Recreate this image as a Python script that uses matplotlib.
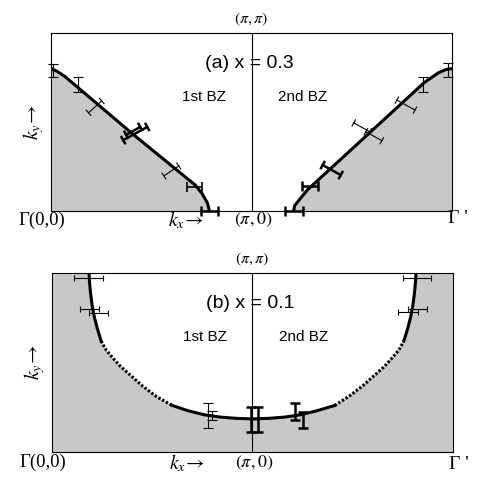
import numpy as np
import matplotlib.pyplot as plt

plt.rcParams['mathtext.fontset'] = 'stix'

# ---------------- data (kx, ky in units of pi) ----------------
# panel (a) x = 0.3 : Fermi surface pieces
a_left_kx = [0.0, 0.03, 0.07, 0.41, 0.72, 0.755, 0.78, 0.79]
a_left_ky = [0.80, 0.785, 0.755, 0.43, 0.145, 0.095, 0.045, 0.0]
a_right_kx = [1.21, 1.215, 1.24, 1.28, 1.58, 1.86, 1.93, 1.97, 2.0]
a_right_ky = [0.0, 0.03, 0.065, 0.12, 0.43, 0.72, 0.775, 0.795, 0.80]

# vertical error bars (a)
a_v_kx = [0.01, 0.135, 1.98, 1.855]
a_v_ky = [0.79, 0.71, 0.79, 0.71]
a_v_err = [0.037, 0.042, 0.04, 0.042]
# horizontal error bars (a)
a_h_kx = [0.715, 0.79, 1.29, 1.21]
a_h_ky = [0.135, 0.0, 0.14, 0.0]
a_h_err = [0.037, 0.042, 0.04, 0.045]
a_h_lw = [1.2, 1.8, 1.8, 1.8]
# tilted error bars (a): centre, half vector, linewidth
a_t_kx = [0.22, 0.42, 0.41, 0.60, 1.77, 1.55, 1.61, 1.40]
a_t_ky = [0.585, 0.435, 0.45, 0.225, 0.595, 0.47, 0.42, 0.23]
a_t_dx = [0.033, 0.06, 0.035, 0.037, 0.045, 0.04, 0.04, 0.045]
a_t_dy = [0.033, 0.037, 0.022, 0.028, -0.028, -0.025, -0.025, -0.028]
a_t_lw = [0.8, 1.8, 1.8, 0.8, 0.8, 0.8, 0.8, 1.8]

# panel (b) x = 0.1 : Fermi surface (solid / dotted / solid)
b_left_kx = [0.185, 0.187, 0.192, 0.200, 0.212, 0.226, 0.245, 0.27, 0.30, 0.34,
             0.39, 0.45, 0.52, 0.60, 0.68, 0.76, 0.84, 0.92, 1.0]
b_left_ky = [1.00, 0.95, 0.89, 0.82, 0.75, 0.69, 0.62, 0.57, 0.53, 0.48,
             0.43, 0.37, 0.31, 0.26, 0.23, 0.208, 0.195, 0.188, 0.185]
b_right_kx = [1.0, 1.08, 1.16, 1.24, 1.32, 1.41, 1.48, 1.55, 1.61, 1.66,
              1.70, 1.73, 1.755, 1.774, 1.788, 1.80, 1.808, 1.813, 1.815]
b_right_ky = [0.185, 0.188, 0.195, 0.208, 0.23, 0.26, 0.31, 0.37, 0.43, 0.48,
              0.53, 0.57, 0.62, 0.69, 0.75, 0.82, 0.89, 0.95, 1.00]
b_left_dot = (6, 13)    # index range of dotted part
b_right_dot = (5, 12)

# vertical error bars (b)
b_v_kx = [0.78, 0.80, 0.995, 1.025, 1.21, 1.25]
b_v_ky = [0.204, 0.205, 0.18, 0.18, 0.226, 0.18]
b_v_err = [0.07, 0.025, 0.07, 0.07, 0.047, 0.045]
b_v_lw = [0.8, 0.8, 1.8, 1.8, 1.8, 1.8]
# horizontal error bars (b)
b_h_kx = [0.18, 0.185, 0.23, 1.82, 1.775, 1.825]
b_h_ky = [0.97, 0.80, 0.777, 0.97, 0.78, 0.80]
b_h_err = [0.072, 0.047, 0.047, 0.07, 0.05, 0.047]

fig = plt.figure(figsize=(4.91, 4.91), dpi=100)
ax_a = fig.add_axes([0.1039, 0.5703, 0.8167, 0.3625])
ax_b = fig.add_axes([0.1059, 0.0794, 0.8167, 0.3646])

gray = '#c8c8c8'


def setup(ax):
    ax.set_xlim(0, 2)
    ax.set_ylim(0, 1)
    ax.set_xticks([])
    ax.set_yticks([])
    for s in ax.spines.values():
        s.set_linewidth(0.8)
    ax.axvline(1.0, color='black', lw=0.8, zorder=2)


def tilted_bar(ax, cx, cy, dx, dy, lw, cap=3.5):
    """error bar along an arbitrary direction, caps perpendicular on screen"""
    p1 = np.array([cx - dx, cy - dy])
    p2 = np.array([cx + dx, cy + dy])
    ax.plot([p1[0], p2[0]], [p1[1], p2[1]], color='black', lw=lw, zorder=4)
    d1 = ax.transData.transform(p1)
    d2 = ax.transData.transform(p2)
    v = d2 - d1
    n = np.array([-v[1], v[0]]) / np.hypot(*v) * cap
    inv = ax.transData.inverted()
    for d in (d1, d2):
        q = inv.transform(np.array([d + n, d - n]))
        ax.plot(q[:, 0], q[:, 1], color='black', lw=lw, zorder=4)


def fs_line(ax, kx, ky, dot):
    i0, i1 = dot
    ax.plot(kx[:i0 + 1], ky[:i0 + 1], color='black', lw=2.2, zorder=3)
    ax.plot(kx[i0:i1 + 1], ky[i0:i1 + 1], color='black', lw=2.2,
            ls=(0, (0.8, 0.6)), zorder=3)
    ax.plot(kx[i1:], ky[i1:], color='black', lw=2.2, zorder=3)


for ax in (ax_a, ax_b):
    setup(ax)

# ---------------- panel (a) ----------------
ax_a.fill(a_left_kx + [0.0], a_left_ky + [0.0], color=gray, lw=0, zorder=1)
ax_a.fill(a_right_kx + [2.0], a_right_ky + [0.0], color=gray, lw=0, zorder=1)
ax_a.plot(a_left_kx, a_left_ky, color='black', lw=2.2, zorder=3, solid_capstyle='butt')
ax_a.plot(a_right_kx, a_right_ky, color='black', lw=2.2, zorder=3, solid_capstyle='butt')

ax_a.errorbar(a_v_kx, a_v_ky, yerr=a_v_err, fmt='none', ecolor='black',
              elinewidth=0.8, capsize=3.5, capthick=0.8, zorder=4, clip_on=False)
for x, y, e, w in zip(a_h_kx, a_h_ky, a_h_err, a_h_lw):
    ax_a.errorbar([x], [y], xerr=[e], fmt='none', ecolor='black',
                  elinewidth=w, capsize=3.5, capthick=w, zorder=4, clip_on=False)
for x, y, dx, dy, w in zip(a_t_kx, a_t_ky, a_t_dx, a_t_dy, a_t_lw):
    tilted_bar(ax_a, x, y, dx, dy, w)

# ---------------- panel (b) ----------------
poly_x = [0.0] + b_left_kx + b_right_kx[1:] + [2.0, 2.0, 0.0]
poly_y = [1.0] + b_left_ky + b_right_ky[1:] + [1.0, 0.0, 0.0]
ax_b.fill(poly_x, poly_y, color=gray, lw=0, zorder=1)
fs_line(ax_b, b_left_kx, b_left_ky, b_left_dot)
fs_line(ax_b, b_right_kx, b_right_ky, b_right_dot)

for x, y, e, w in zip(b_v_kx, b_v_ky, b_v_err, b_v_lw):
    ax_b.errorbar([x], [y], yerr=[e], fmt='none', ecolor='black',
                  elinewidth=w, capsize=3.5, capthick=w, zorder=4)
ax_b.errorbar(b_h_kx, b_h_ky, xerr=b_h_err, fmt='none', ecolor='black',
              elinewidth=0.8, capsize=2.5, capthick=0.8, zorder=4)

# ---------------- labels ----------------
serif = 'Liberation Serif'
sans = 'Liberation Sans'
for ax, title, gy, gpy in ((ax_a, '(a) x = 0.3', -0.05, -0.04),
                           (ax_b, '(b) x = 0.1', -0.06, -0.07)):
    ax.text(1.0, 1.075, r'$(\pi,\pi)$', ha='center', va='center', fontsize=11.5,
            clip_on=False)
    ax.text(0.99, 0.83, title, ha='center', va='center', fontsize=14,
            family=sans, zorder=5)
    ax.text(0.765, 0.64, '1st BZ', ha='center', va='center', fontsize=11,
            family=sans, zorder=5)
    ax.text(1.255, 0.64, '2nd BZ', ha='center', va='center', fontsize=11,
            family=sans, zorder=5)
    ax.text(-0.045, gy, 'Γ(0,0)', ha='center', va='center', fontsize=13.5,
            family=serif, clip_on=False)
    ax.text(0.675, gy, r'$k_x\!\rightarrow$', ha='center', va='center',
            fontsize=14.5, clip_on=False)
    ax.text(1.01, gy, r'$(\pi,0)$', ha='center', va='center', fontsize=13,
            clip_on=False)
    ax.text(2.03, gpy, "Γ '", ha='center', va='center', fontsize=14,
            family=serif, clip_on=False)
    ax.text(-0.085, 0.50, r'$k_y\!\rightarrow$', ha='center', va='center',
            rotation=90, fontsize=14.5, clip_on=False)

plt.savefig('out.png', dpi=100)
